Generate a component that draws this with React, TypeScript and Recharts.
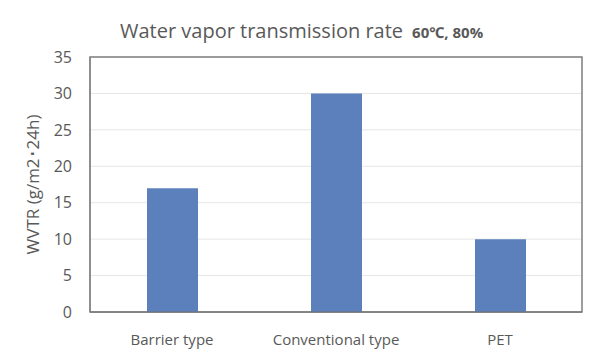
import React from 'react';
import { BarChart, Bar, XAxis, YAxis, CartesianGrid, ReferenceArea } from 'recharts';

const categories = ['Barrier type', 'Conventional type', 'PET'];
const wvtr = [17, 30, 10];
const yTicks = [0, 5, 10, 15, 20, 25, 30, 35];

const data = categories.map((name, i) => ({ name, wvtr: wvtr[i] }));

const font = '"Open Sans", "Noto Sans", sans-serif';
const textColor = '#595959';

const App: React.FC = () => {
  return (
    <div style={{ position: 'absolute', left: 0, top: 0, width: 600, height: 360, background: '#fff', fontFamily: font }}>
      <div style={{ position: 'absolute', left: 120, top: 17, whiteSpace: 'nowrap', color: textColor }}>
        <span style={{ fontSize: 20 }}>Water vapor transmission rate</span>
        <span style={{ fontSize: 15, fontWeight: 'bold', marginLeft: 9 }}>60℃, 80%</span>
      </div>
      <BarChart
        width={600}
        height={360}
        data={data}
        margin={{ top: 57, right: 18, left: 30, bottom: 18 }}
        barCategoryGap={0}
      >
        <CartesianGrid vertical={false} stroke="#e6e6e6" />
        <XAxis
          dataKey="name"
          height={30}
          axisLine={{ stroke: '#6e6e6e' }}
          tickLine={false}
          tickMargin={16}
          tick={{ fill: textColor, fontSize: 15, fontFamily: font }}
        />
        <YAxis
          width={60}
          domain={[0, 35]}
          ticks={yTicks}
          axisLine={{ stroke: '#7f7f7f' }}
          tickLine={false}
          tickMargin={12}
          tick={{ fill: textColor, fontSize: 16, fontFamily: font }}
          label={{
            value: 'WVTR (g/m2･24h)',
            angle: -90,
            position: 'insideLeft',
            offset: 3,
            style: { fill: textColor, fontSize: 17, fontFamily: font, textAnchor: 'middle' },
          }}
        />
        <ReferenceArea y1={0} y2={35} fill="none" stroke="#7f7f7f" strokeWidth={1.5} />
        <Bar dataKey="wvtr" fill="#5b80bb" barSize={51} isAnimationActive={false} />
      </BarChart>
    </div>
  );
};

export default App;
